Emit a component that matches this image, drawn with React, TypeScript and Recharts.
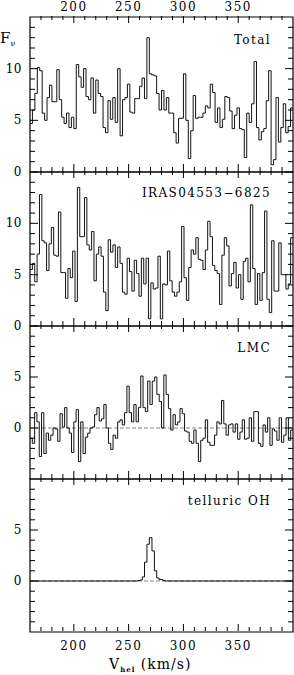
import React from "react";
import { LineChart, Line, XAxis, YAxis, ReferenceArea, ReferenceLine } from "recharts";

const V_MIN = 160;
const V_MAX = 400;

// flux per channel (left to right)
const totalFlux = [
  4.7, 6.0, 7.6, 10.1, 9.8, 5.7, 5.0, 7.2, 8.4, 6.8,
  6.8, 9.9, 7.0, 5.3, 4.7, 5.7, 4.3, 5.3, 4.2, 10.4,
  9.2, 8.2, 10.0, 7.3, 7.0, 9.1, 5.7, 8.9, 7.6, 7.3,
  4.3, 3.8, 6.9, 5.1, 7.2, 4.8, 10.0, 3.5, 7.0, 7.2,
  8.5, 5.8, 5.7, 7.1, 7.1, 8.3, 9.1, 7.1, 13.0, 9.5,
  9.4, 9.3, 7.6, 6.0, 7.9, 6.0, 7.2, 5.7, 5.7, 3.8,
  2.8, 5.2, 5.2, 9.5, 5.0, 1.3, 4.0, 7.4, 5.2, 5.3,
  5.3, 5.7, 6.4, 6.2, 8.5, 7.7, 4.8, 6.2, 4.3, 5.1,
  7.3, 7.2, 5.9, 4.2, 5.5, 6.2, 4.2, 4.1, 1.4, 5.7,
  4.8, 6.6, 10.7, 4.3, 3.1, 3.9, 4.2, 6.9, 9.8, 0.7,
  1.2, 7.2, 2.9, 4.3, 6.6, 3.8, 4.4, 6.2,
];

const irasFlux = [
  5.5, 6.1, 4.3, 7.0, 12.8, 8.3, 8.1, 5.4, 8.0, 9.6,
  6.9, 6.8, 11.1, 5.2, 5.2, 2.7, 5.6, 4.7, 7.3, 2.4,
  13.5, 8.7, 8.7, 12.5, 7.9, 7.4, 9.2, 4.4, 7.0, 7.7,
  6.8, 3.3, 1.5, 8.4, 7.2, 7.9, 5.7, 7.7, 6.1, 3.3,
  3.1, 6.6, 5.3, 3.4, 6.4, 5.1, 2.9, 6.6, 4.1, 6.6,
  0.7, 4.2, 3.6, 3.7, 6.8, 0.7, 4.1, 4.0, 7.3, 4.4,
  3.3, 2.9, 3.3, 4.3, 9.7, 4.7, 2.5, 5.7, 7.4, 7.0,
  8.6, 6.5, 6.4, 5.5, 7.4, 10.2, 8.7, 5.9, 5.4, 5.1,
  2.1, 6.9, 8.6, 7.8, 3.9, 5.1, 6.2, 3.7, 5.0, 2.6,
  6.3, 6.6, 4.3, 11.8, 5.6, 2.1, 5.1, 2.5, 5.2, 11.2,
  2.6, 1.3, 8.3, 3.4, 3.4, 8.1, 5.0, 5.0, 3.6, 4.1, 8.6,
];

const lmcFlux = [
  -1.0, -1.5, 1.5, 0.6, -2.8, 1.5, -2.5, -0.5, -1.2, -0.7,
  0.0, -0.1, -1.3, 1.4, 0.1, 2.0, 0.0, -0.5, -2.4, 0.6,
  1.8, -3.3, 0.6, -2.5, -0.9, -0.5, 0.0, 0.1, 1.3, 2.0,
  0.7, 0.9, 2.3, 0.0, -1.5, -2.1, -0.7, -1.0, 0.6, 0.8,
  0.3, 1.5, 4.1, 1.5, 0.6, 2.3, 0.6, 2.0, 5.1, 2.0,
  1.6, 4.6, 2.3, 4.6, 5.0, 3.3, 2.6, 0.0, 5.2, 3.3,
  1.9, -0.2, 1.3, 0.3, 0.6, 1.9, 1.4, -0.3, -0.4, -1.3,
  -1.5, -0.2, -1.5, -3.3, -1.2, -1.0, 0.8, -1.4, -1.7, -1.7,
  -0.7, 0.6, 0.4, 2.7, 0.4, -0.7, 0.3, 0.4, -0.4, 0.4,
  -1.1, -0.4, 0.8, -1.1, -1.0, 1.0, -1.3, 1.6, 1.6, -1.5,
  -1.8, 0.3, -0.4, 1.0, -1.7, -0.1, -0.3, -1.2, 1.0, -1.4,
  -0.7, 1.0, -1.2, -0.2,
];

// telluric OH: bin edges (km/s) and flux
const ohVel = [160, 258.3, 260.5, 262.5, 264.5, 266.7, 268.9, 271.3, 273.5, 275.6, 277.7, 281, 283, 400];
const ohFlux = [0, 0.05, 0.1, 0.4, 1.85, 3.6, 4.25, 2.95, 1.0, 0.3, 0.15, 0.05, 0, 0];

const xTicks = [170, 180, 190, 200, 210, 220, 230, 240, 250, 260, 270, 280, 290, 300, 310, 320, 330, 340, 350, 360, 370, 380, 390];
const xLabels = [200, 250, 300, 350];
const yTicksPos = [0, 1, 2, 3, 4, 5, 6, 7, 8, 9, 10, 11, 12, 13, 14];
const yLabelsPos = [0, 5, 10];
const yTicksSym = [-4, -3, -2, -1, 0, 1, 2, 3, 4, 5, 6, 7, 8, 9];
const yLabelsSym = [0, 5];

const FONT = "DejaVu Serif";
const W = 294;
const MT = 20;
const MB = 45;
const PLOT_W = 263;

function channels(flux: number[]) {
  const dv = (V_MAX - V_MIN) / flux.length;
  const rows = flux.map((f, i) => ({ v: V_MIN + i * dv, f }));
  rows.push({ v: V_MAX, f: flux[flux.length - 1] });
  return rows;
}

function XTick(props: any) {
  const { x, y, payload, plotH, showTop, showBottom } = props;
  const v = payload.value;
  const major = xLabels.includes(v);
  const len = major ? 7 : 4;
  return (
    <g>
      <line x1={x} y1={y} x2={x} y2={y - len} stroke="#000" />
      <line x1={x} y1={y - plotH} x2={x} y2={y - plotH + len} stroke="#000" />
      {major && showBottom && (
        <text x={x} y={y + 19} textAnchor="middle" fontFamily={FONT} fontSize={12} letterSpacing={1.5} fill="#000">
          {v}
        </text>
      )}
      {major && showTop && (
        <text x={x} y={y - plotH - 5} textAnchor="middle" fontFamily={FONT} fontSize={12} letterSpacing={1.5} fill="#000">
          {v}
        </text>
      )}
    </g>
  );
}

function YTick(props: any) {
  const { x, y, payload, labels } = props;
  const v = payload.value;
  const major = v % 5 === 0;
  const len = major ? 8 : 5;
  return (
    <g>
      <line x1={x} y1={y} x2={x + len} y2={y} stroke="#000" />
      <line x1={x + PLOT_W} y1={y} x2={x + PLOT_W - len} y2={y} stroke="#000" />
      {labels.includes(v) && (
        <text x={x - 8} y={y + 4} textAnchor="end" fontFamily={FONT} fontSize={12} letterSpacing={0.5} fill="#000">
          {v}
        </text>
      )}
    </g>
  );
}

interface PanelProps {
  data: { v: number; f: number }[];
  top: number;
  plotH: number;
  domain: [number, number];
  yTicks: number[];
  yLabels: number[];
  zeroLine?: boolean;
  showTop?: boolean;
  showBottom?: boolean;
}

function Panel({ data, top, plotH, domain, yTicks, yLabels, zeroLine, showTop, showBottom }: PanelProps) {
  return (
    <div style={{ position: "absolute", left: 0, top: top - MT }}>
      <LineChart width={W} height={plotH + MT + MB} data={data} margin={{ top: MT, right: 1, bottom: MB - 1, left: 0 }}>
        <XAxis
          dataKey="v"
          type="number"
          domain={[V_MIN, V_MAX]}
          allowDataOverflow
          ticks={xTicks}
          interval={0}
          height={1}
          tickSize={0}
          tickMargin={0}
          axisLine={false}
          tickLine={false}
          tick={(p: any) => <XTick {...p} y={p.y - 1} plotH={plotH} showTop={showTop} showBottom={showBottom} />}
        />
        <YAxis
          type="number"
          domain={domain}
          allowDataOverflow
          ticks={yTicks}
          interval={0}
          width={30}
          tickSize={0}
          tickMargin={0}
          axisLine={false}
          tickLine={false}
          tick={(p: any) => <YTick {...p} labels={yLabels} />}
        />
        {zeroLine && <ReferenceLine y={0} stroke="#666" strokeDasharray="4 2" strokeWidth={0.8} />}
        <Line
          dataKey="f"
          type="stepAfter"
          stroke="#111"
          strokeWidth={1}
          dot={false}
          isAnimationActive={false}
        />
        <ReferenceArea x1={V_MIN} x2={V_MAX} y1={domain[0]} y2={domain[1]} fill="none" stroke="#000" strokeWidth={1.2} />
      </LineChart>
    </div>
  );
}

const titleStyle = { fontFamily: FONT, fontSize: 12, letterSpacing: 1.4, fill: "#000" };

export default function App() {
  const ohData = ohVel.map((v, i) => ({ v, f: ohFlux[i] }));
  return (
    <div style={{ position: "absolute", left: 0, top: 0, width: W, height: 675, background: "#fff" }}>
      <Panel data={channels(totalFlux)} top={17} plotH={155} domain={[0, 15]} yTicks={yTicksPos} yLabels={yLabelsPos} showTop />
      <Panel data={channels(irasFlux)} top={172} plotH={154} domain={[0, 15]} yTicks={yTicksPos} yLabels={yLabelsPos} />
      <Panel data={channels(lmcFlux)} top={326} plotH={153} domain={[-5, 10]} yTicks={yTicksSym} yLabels={yLabelsSym} zeroLine />
      <Panel data={ohData} top={479} plotH={153} domain={[-5, 10]} yTicks={yTicksSym} yLabels={yLabelsSym} zeroLine showBottom />
      <svg width={W} height={675} style={{ position: "absolute", left: 0, top: 0, pointerEvents: "none" }}>
        <text x={0} y={43} fontFamily={FONT} fontSize={15} fill="#000">
          F<tspan fontSize={8} dy={3}>ν</tspan>
        </text>
        <text x={271} y={44} textAnchor="end" {...titleStyle}>Total</text>
        <text x={271} y={197} textAnchor="end" {...titleStyle}>IRAS04553−6825</text>
        <text x={271} y={352} textAnchor="end" {...titleStyle}>LMC</text>
        <text x={271} y={505} textAnchor="end" {...titleStyle}>telluric OH</text>
        <text x={109} y={669} fontFamily={FONT} fontSize={14} letterSpacing={1} fill="#000">
          V<tspan fontSize={7} fontWeight="bold" dy={3}>hel</tspan>
          <tspan dy={-3} fontSize={14}> (km/s)</tspan>
        </text>
      </svg>
    </div>
  );
}
